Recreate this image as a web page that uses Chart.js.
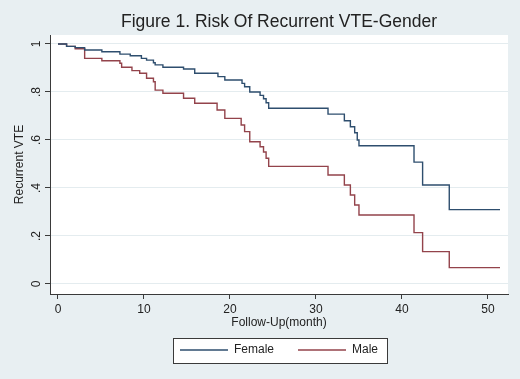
<!DOCTYPE html>
<html>
<head>
<meta charset="utf-8">
<script src="https://cdn.jsdelivr.net/npm/chart.js@4/dist/chart.umd.min.js"></script>
<style>
  body { margin: 0; background: #e8eff2; }
  canvas { display: block; }
</style>
</head>
<body>
<canvas id="kmChart" width="520" height="379"></canvas>
<script>
// Kaplan-Meier steps: time of drop (months) and value after the drop
const femaleMonths = [0, 1.0, 2.0, 3.1, 5.1, 7.2, 8.4, 9.7, 10.3, 11.1, 11.3, 12.2, 14.6, 15.9, 18.6, 19.4, 21.4, 21.7, 22.3, 23.5, 23.9, 24.2, 24.5, 31.4, 33.3, 34.0, 34.5, 34.8, 35.0, 41.4, 42.4, 45.5, 51.4];
const femaleRisk = [1, 0.99, 0.985, 0.975, 0.968, 0.958, 0.951, 0.94, 0.933, 0.922, 0.913, 0.903, 0.896, 0.878, 0.864, 0.85, 0.836, 0.822, 0.80, 0.786, 0.772, 0.755, 0.732, 0.708, 0.68, 0.655, 0.63, 0.60, 0.576, 0.508, 0.4125, 0.31, 0.31];

const maleMonths = [0, 1.0, 2.0, 3.1, 5.1, 7.2, 7.4, 8.6, 9.5, 10.3, 11.1, 11.3, 12.2, 14.6, 15.9, 18.5, 19.4, 21.3, 21.7, 22.3, 23.5, 23.9, 24.2, 24.5, 31.4, 33.3, 34.0, 34.5, 35.0, 41.4, 42.4, 45.5, 51.4];
const maleRisk = [1, 0.99, 0.98, 0.94, 0.93, 0.92, 0.903, 0.889, 0.878, 0.857, 0.843, 0.808, 0.795, 0.774, 0.753, 0.725, 0.69, 0.6625, 0.635, 0.593, 0.572, 0.55, 0.524, 0.49, 0.454, 0.4125, 0.371, 0.329, 0.2875, 0.214, 0.135, 0.068, 0.068];

const monthTicks = [0, 10, 20, 30, 40, 50];
const riskTicks = [0, 0.2, 0.4, 0.6, 0.8, 1];
const riskTickLabels = ['0', '.2', '.4', '.6', '.8', '1'];

const seriesNames = ['Female', 'Male'];
const seriesColors = ['#2e4e6e', '#93434b'];

const toPoints = (xs, ys) => xs.map((x, i) => ({ x: x, y: ys[i] }));

const textColor = '#222';
const axisColor = '#3a3a3a';
const fontFamily = '"Liberation Sans", Arial, sans-serif';

// Stata-like backdrop, legend frame and the rotated y labels
const stataLook = {
  id: 'stataLook',
  beforeDraw(chart) {
    const { ctx, chartArea: a } = chart;
    ctx.save();
    ctx.fillStyle = '#e8eff2';
    ctx.fillRect(0, 0, chart.width, chart.height);
    ctx.fillStyle = '#ffffff';
    ctx.fillRect(a.left, a.top, a.right - a.left, a.bottom - a.top);

    const boxes = chart.legend.legendHitBoxes;
    if (boxes && boxes.length) {
      const first = boxes[0];
      const last = boxes[boxes.length - 1];
      const cy = first.top + first.height / 2;
      const x0 = Math.round(first.left - 7) + 0.5;
      const x1 = Math.round(last.left + last.width + 9) + 0.5;
      const y0 = Math.round(cy - 12.5) + 0.5;
      const y1 = Math.round(cy + 12.5) + 0.5;
      ctx.fillStyle = '#ffffff';
      ctx.fillRect(x0, y0, x1 - x0, y1 - y0);
      ctx.strokeStyle = axisColor;
      ctx.lineWidth = 1;
      ctx.strokeRect(x0, y0, x1 - x0, y1 - y0);
    }
    ctx.restore();
  },
  afterDraw(chart) {
    const { ctx } = chart;
    const yScale = chart.scales.y;
    ctx.save();
    ctx.fillStyle = textColor;
    ctx.font = '12px ' + fontFamily;
    ctx.textAlign = 'center';
    ctx.textBaseline = 'middle';
    riskTicks.forEach((v, i) => {
      const py = yScale.getPixelForValue(v);
      ctx.save();
      ctx.translate(37, py);
      ctx.rotate(-Math.PI / 2);
      ctx.fillText(riskTickLabels[i], 0, 0);
      ctx.restore();
    });
    ctx.restore();
  }
};

const ctx = document.getElementById('kmChart').getContext('2d');
new Chart(ctx, {
  type: 'line',
  data: {
    datasets: [
      {
        label: seriesNames[0],
        data: toPoints(femaleMonths, femaleRisk),
        borderColor: seriesColors[0],
        backgroundColor: seriesColors[0],
        borderWidth: 1.4,
        stepped: true,
        pointRadius: 0,
        fill: false
      },
      {
        label: seriesNames[1],
        data: toPoints(maleMonths, maleRisk),
        borderColor: seriesColors[1],
        backgroundColor: seriesColors[1],
        borderWidth: 1.4,
        stepped: true,
        pointRadius: 0,
        fill: false
      }
    ]
  },
  options: {
    responsive: false,
    animation: false,
    devicePixelRatio: 1,
    layout: { padding: { left: 0, right: 12, top: 0, bottom: 13 } },
    font: { family: fontFamily },
    plugins: {
      title: {
        display: true,
        fullSize: false,
        text: 'Figure 1. Risk Of Recurrent VTE-Gender',
        color: textColor,
        font: { family: fontFamily, size: 17.5, weight: 'normal', lineHeight: 1.2 },
        padding: { top: 12, bottom: 2 }
      },
      legend: {
        position: 'bottom',
        fullSize: false,
        labels: {
          usePointStyle: true,
          pointStyle: 'line',
          pointStyleWidth: 48,
          padding: 24,
          color: textColor,
          font: { family: fontFamily, size: 12 }
        }
      },
      tooltip: { enabled: false }
    },
    scales: {
      x: {
        type: 'linear',
        min: -0.93,
        max: 52.33,
        afterBuildTicks: (scale) => { scale.ticks = monthTicks.map(v => ({ value: v })); },
        afterFit: (scale) => { scale.height = 26; },
        grid: { drawOnChartArea: false, tickLength: 5, tickColor: axisColor },
        border: { color: axisColor, width: 1 },
        ticks: { color: textColor, font: { family: fontFamily, size: 12 }, padding: 3, maxRotation: 0, autoSkip: false },
        title: {
          display: true,
          text: 'Follow-Up(month)',
          color: textColor,
          font: { family: fontFamily, size: 12 },
          padding: { top: 0, bottom: -10.2 }
        }
      },
      y: {
        type: 'linear',
        min: -0.0417,
        max: 1.0375,
        afterBuildTicks: (scale) => { scale.ticks = riskTicks.map(v => ({ value: v })); },
        afterFit: (scale) => { scale.width = 50; },
        grid: { color: '#e4ecef', lineWidth: 1, tickLength: 5, tickColor: axisColor },
        border: { color: axisColor, width: 1 },
        ticks: {
          color: 'rgba(0,0,0,0)',
          font: { family: fontFamily, size: 12 },
          callback: (value) => riskTickLabels[riskTicks.indexOf(value)]
        },
        title: {
          display: true,
          text: 'Recurrent VTE',
          color: textColor,
          font: { family: fontFamily, size: 12 },
          padding: { top: 12.8, bottom: 0 }
        }
      }
    }
  },
  plugins: [stataLook]
});
</script>
</body>
</html>
